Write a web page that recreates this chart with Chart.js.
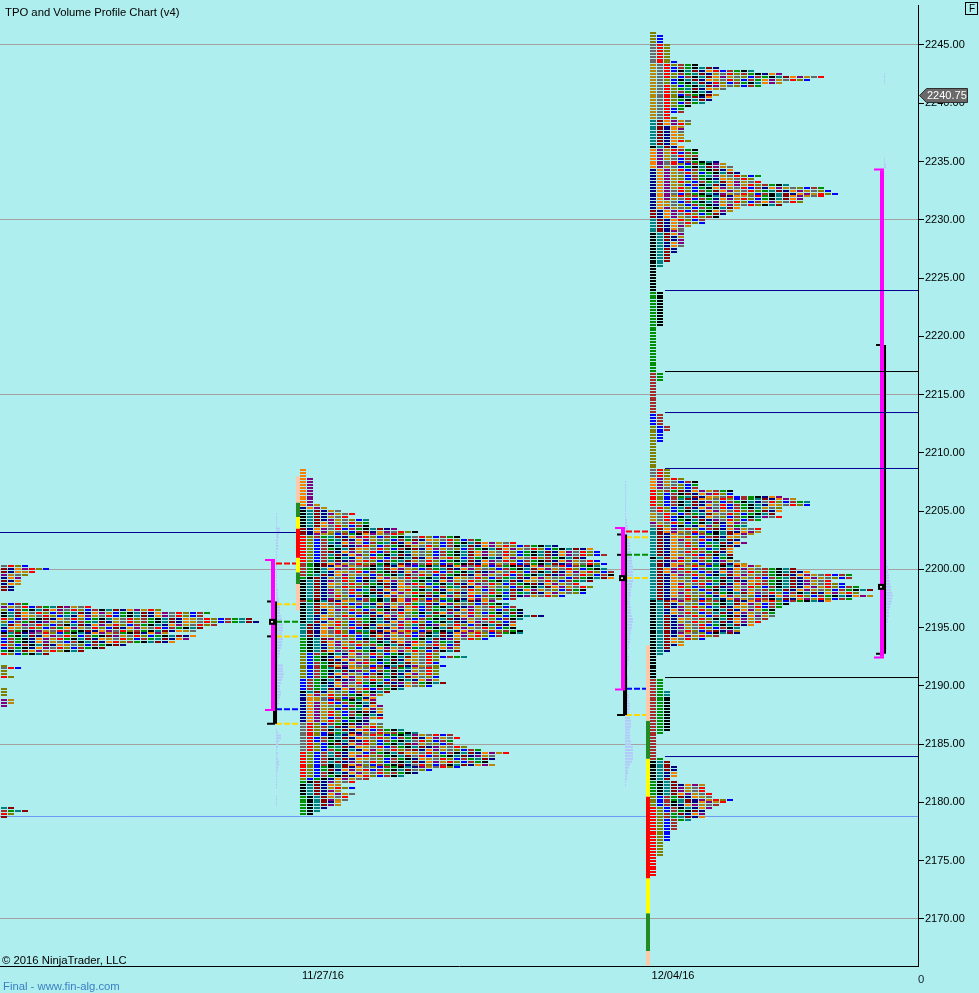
<!DOCTYPE html>
<html>
<head>
<meta charset="utf-8">
<title>TPO and Volume Profile Chart</title>
<script src="https://cdn.jsdelivr.net/npm/chart.js@4"></script>
<style>
    html, body { margin: 0; padding: 0; background: #afeeee; }
    canvas { display: block; }
</style>
</head>
<body>
<canvas id="chart" width="979" height="993"></canvas>
<script>
// Ticks and dates
const priceTicks = [2245, 2240, 2235, 2230, 2225, 2220, 2215, 2210, 2205, 2200, 2195, 2190, 2185, 2180, 2175, 2170];
const gridLevels = [2245, 2230, 2215, 2200, 2185, 2170];
const dateLabels = ['11/27/16', '12/04/16'];
const dateColumns = [46.14, 96.14];
const lastPrice = 2240.75;

// TPO profiles: blocks per 0.25 row, from the top price down
const rowsOld = [4,7,5,4,3,3,3,2,2,0,0,0,0,4,13,23,30,29,36,37,31,29,28,24,28,27,25,18,15,12,7,0,0,0,1,3,1,1,2,0,0,0,1,1,1,0,2,2,1];
const rowsOldLow = [2,4,2,1];
const rowsMid = [1,1,1,2,2,2,2,2,2,2,2,2,3,4,6,8,7,10,10,10,14,17,15,23,26,31,37,42,43,44,41,43,44,43,44,45,45,45,42,40,42,41,41,38,31,28,30,31,32,32,35,32,31,31,31,32,32,29,27,23,23,23,23,20,
    24,20,20,21,20,20,20,20,20,21,19,15,13,12,11,11,11,12,12,12,12,12,10,12,12,15,17,22,23,22,22,24,26,30,28,28,27,28,23,19,17,15,10,8,6,8,6,8,7,7,6,6,4,3,2];
const rowsNew = [1,2,2,2,3,3,3,3,3,3,4,7,10,15,19,25,23,19,16,11,9,10,9,9,8,6,5,5,3,4,6,6,5,5,5,5,5,6,4,5,7,7,7,7,
    10,11,12,12,13,16,15,16,20,25,26,27,25,22,22,19,13,12,11,10,8,8,6,5,5,5,5,5,5,5,4,4,3,3,3,2,2,
    1,1,1,1,1,1,1,1,2,2,2,2,2,2,2,2,2,2,2,2,1,1,1,1,1,1,1,1,1,1,1,1,1,1,1,1,2,2,2,1,1,1,1,1,1,1,1,1,1,1,
    2,2,2,2,3,3,2,2,2,2,1,1,1,1,1,1,1,1,1,3,3,3,5,
    7,7,7,12,12,19,21,23,23,19,19,18,19,16,14,14,16,16,15,14,13,14,13,12,12,12,12,13,14,16,21,23,29,29,26,28,30,32,30,32,29,26,20,19,18,18,18,17,16,15,13,13,13,10,8,5,5,3,3,2,
    1,1,1,1,1,1,1,1,2,2,2,2,3,3,3,3,3,3,3,3,3,3,3,3,3,3,2,1,1,1,1,1,1,1,1,2,3,3,4,4,4,4,3,4,8,8,8,9,9,12,11,10,9,8,8,8,6,4,4,4,3,3,3,3,2,2,2,2,2,1,1,1,1,1,1,1];
const topPrices = [2200.25, 2179.5, 2208.5, 2246];
const startColumns = [0, 0, 42.71, 92.71];

// Volume histograms: size per 0.25 row
const volumeMid = [1,1,1,1,1,4,4,3,3,2,2,2,2,1,1,1,1,1,1,1,1,1,1,1,1,1,2,2,2,3,3,3,4,4,4,5,6,6,7,7,7,6,6,7,6,6,5,4,4,3,2,2,7,7,7,8,7,6,5,4,4,5,5,4,3,3,2,0,0,0,0,0,0,0,
    1,2,5,5,3,2,2,1,2,1,2,3,3,2,2,1,1,1,1,1,1,0,0,1,1,1,1];
const volumeNew = [1,1,1,1,1,1,1,1,1,1,1,1,1,2,2,3,3,2,3,4,4,5,5,5,6,6,7,7,7,8,8,8,8,8,8,7,7,6,6,6,5,5,5,6,6,6,7,8,8,7,7,6,6,5,5,5,4,4,3,3,4,4,3,3,2,2,2,3,3,3,3,3,3,4,4,4,5,5,5,4,4,5,6,6,6,5,5,5,5,6,6,8,8,8,8,8,7,5,4,3,3,2,2,1,1];
const volumeLast = [1,1,2,2,2,3,3,4,4,5,5,6,7,6,6,5,4,3,3,3,2,2,1,1,1,1,1,1,1,1,1];
const volumeLastA = [1,1,1,1];
const volumeLastB = [1,1,2,2];
const volumeTops = [2204.75, 2207.5, 2200.75, 2242.5, 2235.25];
const volumeColumns = [39.43, 89.29, 126.57, 126.29, 126.29];

// Value area, range and POC per session
const sessionColumns = [39, 89, 126];
const rangeColumns = [39.29, 89.29, 126.29];
const valueHigh = [2200.75, 2203.5, 2234.25];
const valueLow = [2188, 2189.75, 2192.5];
const rangeHigh = [2197.25, 2203, 2219.25];
const rangeLow = [2186.75, 2187.5, 2192.75];
const pocPrices = [2195.5, 2199.25, 2198.5];
const shortMarkPrices = [2194.25, 2201.25];

// Dashed session levels
const levelsMid = [2200.5, 2197, 2195.5, 2194.25, 2188, 2186.75];
const levelsNew = [2203.25, 2202.75, 2201.25, 2199.25, 2189.75, 2187.5];

// Long horizontal levels
const navyLevels = [2223.93, 2213.46, 2208.66, 2183.94];
const blackLevels = [2216.98, 2190.72];
const navyOldLevel = 2203.165;
const supportLevel = 2178.794;

// Time bands beside the profiles
const bandEdgesMid = [2208, 2205.75, 2204.5, 2203.5, 2201, 2199.75, 2198.75, 2196.5];
const bandEdgesNew = [2193.5, 2187, 2183.75, 2180.5, 2173.5, 2170.5, 2167.25, 2166];

// Styles
const colors = {
    navy: '#000080', orange: '#f58000', purple: '#800080', gold: '#b8860b', dimgray: '#696969', red: '#ff0000', olive: '#808000',
    blue: '#0000ff', brown: '#a52a2a', green: '#008f00', black: '#000000', teal: '#008080', darkred: '#8b0000'
};
const letterOrder = Object.keys(colors);
const bandColorsMid = ['#ffc8a8', '#228b22', '#ffff00', '#ff0000', '#ffff00', '#228b22', '#ffc8a8'];
const bandColorsNew = ['#ffc8a8', '#228b22', '#ffff00', '#ff0000', '#ffff00', '#228b22', '#ffc8a8'];
const levelColors = ['#ff0000', '#ffd700', '#008f00', '#ffd700', '#0000ff', '#ffd700'];

// First block colour of each row, as [colour, rows]
const firstOld = [['dimgray',1],['darkred',2],['purple',1],['navy',1],['darkred',1],['navy',1],['darkred',2],['olive',4],['olive',1],['purple',1],['olive',1],['black',2],['red',1],['olive',1],['teal',1],['navy',1],['blue',1],['black',1],['brown',1],['blue',2],['red',1],['blue',1],['green',1],['red',1],['olive',3],['olive',1],['dimgray',1],['olive',2],['red',1],['olive',6],['purple',4]];
const firstOldLow = [['teal',1],['brown',1],['red',1],['darkred',1]];
const firstMid = [['orange',13],['navy',1],['black',6],['darkred',3],['red',9],['brown',5],['green',1],['black',7],['brown',1],['black',7],['teal',5],['green',5],['olive',9],['blue',4],['black',1],['navy',10],['dimgray',10],['red',9],['olive',1],['green',1],['black',4],['green',7]];
const firstNew = [['olive',4],['dimgray',7],['gold',19],['teal',9],['black',1],['orange',7],['navy',14],['darkred',3],['teal',5],['black',20],['green',28],['brown',14],['blue',4],['olive',15],['dimgray',3],['orange',4],['red',6],['dimgray',2],['gold',3],['purple',1],['dimgray',1],['teal',10],['black',1],['teal',14],['black',27],['brown',28],['black',7],['green',5],['olive',4],['red',24]];

const ROW = 0.25;

function expandRuns(runs) {
    const out = [];
    runs.forEach(run => {
        for (let i = 0; i < run[1]; i++) out.push(run[0]);
    });
    return out;
}

// Block swatch used as point style
function makeSwatch(color) {
    const c = document.createElement('canvas');
    c.width = 6;
    c.height = 2;
    const g = c.getContext('2d');
    g.fillStyle = color;
    g.fillRect(0, 0, 6, 2);
    return c;
}

// Group the TPO blocks by colour, one scatter dataset per colour
function buildBlockDatasets() {
    const groups = {};
    letterOrder.forEach(name => { groups[name] = []; });
    const profiles = [
        [rowsOld, firstOld], [rowsOldLow, firstOldLow], [rowsMid, firstMid], [rowsNew, firstNew]
    ];
    profiles.forEach((profile, p) => {
        const firsts = expandRuns(profile[1]);
        profile[0].forEach((count, i) => {
            const base = letterOrder.indexOf(firsts[i] || firsts[firsts.length - 1]);
            const band = Math.floor(i / 2);
            let skip = 0;
            for (let j = 0; j < count; j++) {
                if (j >= 2 && (band * 5 + j * 3 + p) % 7 === 0) skip++;
                // rows drift apart the further they run from the profile spine
                if (j === 4) skip += (i * 5) % 3;
                if (j === 9) skip += (i * 7) % 4;
                if (j === 16) skip += (i * 3) % 5;
                const name = letterOrder[(base + j + skip) % letterOrder.length];
                groups[name].push({ x: startColumns[p] + j + 0.57, y: topPrices[p] - i * ROW });
            }
        });
    });
    return letterOrder.map(name => ({
        data: groups[name],
        pointStyle: makeSwatch(colors[name]),
        pointRadius: 3,
        borderWidth: 0,
        order: 5
    }));
}

function lineSet(points, color, width, order, dash) {
    return {
        data: points,
        showLine: true,
        borderColor: color,
        borderWidth: width,
        borderDash: dash || [],
        pointRadius: 0,
        spanGaps: false,
        order: order
    };
}

function gap() {
    return { x: NaN, y: NaN };
}

function buildVolumeSet() {
    const points = [];
    [volumeMid, volumeNew, volumeLast, volumeLastA, volumeLastB].forEach((rows, v) => {
        rows.forEach((size, i) => {
            if (size === 0) return;
            const y = volumeTops[v] - i * ROW;
            points.push({ x: volumeColumns[v], y: y }, { x: volumeColumns[v] + size / 7, y: y }, gap());
        });
    });
    return lineSet(points, '#b2c8fa', 2, 8);
}

function buildBands(edges, bandColors, column) {
    return bandColors.map((color, i) => lineSet([{ x: column, y: edges[i] }, { x: column, y: edges[i + 1] }], color, 4, 4));
}

function buildSessionSets() {
    const sets = [];
    sessionColumns.forEach((col, s) => {
        const rc = rangeColumns[s];
        sets.push(lineSet([{ x: rc, y: rangeHigh[s] }, { x: rc, y: rangeLow[s] }], '#000000', 4, 3));
        sets.push(lineSet([
            { x: rc - 1.14, y: rangeHigh[s] }, { x: rc, y: rangeHigh[s] }, gap(),
            { x: rc - 1.14, y: rangeLow[s] }, { x: rc, y: rangeLow[s] }
        ], '#000000', 2, 3));
        sets.push(lineSet([
            { x: col, y: valueHigh[s] }, { x: col, y: valueLow[s] }
        ], '#ff00ff', 4, 2));
        sets.push(lineSet([
            { x: col - 1.14, y: valueHigh[s] + 0.06 }, { x: col + 0.29, y: valueHigh[s] + 0.06 }, gap(),
            { x: col - 1.14, y: valueLow[s] - 0.06 }, { x: col + 0.29, y: valueLow[s] - 0.06 }
        ], '#ff00ff', 2, 2));
        // POC marker, black square with a white centre
        sets.push(lineSet([{ x: col - 0.29, y: pocPrices[s] }, { x: col, y: pocPrices[s] }], '#ffffff', 1.5, 0));
        sets.push(lineSet([{ x: col - 0.57, y: pocPrices[s] }, { x: col + 0.29, y: pocPrices[s] }], '#000000', 6, 1));
    });
    shortMarkPrices.forEach((price, s) => {
        const rc = rangeColumns[s];
        sets.push(lineSet([{ x: rc - 1.14, y: price }, { x: rc - 0.57, y: price }], '#000000', 2, 3));
    });
    return sets;
}

function buildLevels(levels, from, to) {
    return levels.map((price, i) => lineSet([{ x: from, y: price }, { x: to, y: price }], levelColors[i], 2, 4, [6, 2]));
}

function buildLongLines() {
    const right = 918 / 7;
    const sets = [];
    const spread = (levels, color) => levels.forEach(price => {
        sets.push(lineSet([{ x: 95, y: price }, { x: right, y: price }], color, 1, 1));
    });
    spread(navyLevels, '#000090');
    spread(blackLevels, '#000000');
    sets.push(lineSet([{ x: 0, y: navyOldLevel }, { x: 42.7, y: navyOldLevel }], '#000090', 1, 6));
    sets.push(lineSet([{ x: 0, y: supportLevel }, { x: right, y: supportLevel }], '#6b98f5', 1, 9));
    return sets;
}

// Nearest sampling keeps the small blocks crisp
const crispBlocks = {
    id: 'crispBlocks',
    beforeDatasetsDraw(chart) {
        chart.ctx.imageSmoothingEnabled = false;
    }
};

// Captions, price tag and the F button
const captions = {
    id: 'captions',
    afterDraw(chart) {
        const ctx = chart.ctx;
        ctx.save();
        ctx.font = '11.3px "Liberation Sans"';
        ctx.textBaseline = 'alphabetic';
        ctx.textAlign = 'left';
        ctx.fillStyle = '#000000';
        ctx.fillText('TPO and Volume Profile Chart (v4)', 5, 16);
        ctx.fillText('\u00a9 2016 NinjaTrader, LLC', 2, 964);
        ctx.fillStyle = '#3a80c4';
        ctx.fillText('Final - www.fin-alg.com', 3, 990);
        ctx.fillStyle = '#112233';
        ctx.fillText('0', 918, 983);

        const y = Math.round(chart.scales.y.getPixelForValue(lastPrice));
        ctx.fillStyle = '#696969';
        ctx.strokeStyle = '#303030';
        ctx.lineWidth = 1;
        ctx.beginPath();
        ctx.moveTo(919.5, y + 0.5);
        ctx.lineTo(926.5, y - 6.5);
        ctx.lineTo(967.5, y - 6.5);
        ctx.lineTo(967.5, y + 7.5);
        ctx.lineTo(926.5, y + 7.5);
        ctx.closePath();
        ctx.fill();
        ctx.stroke();
        ctx.fillStyle = '#ffffff';
        ctx.font = '11px "Liberation Sans"';
        ctx.fillText(String(lastPrice), 927, y + 4);

        ctx.strokeStyle = '#000000';
        ctx.strokeRect(965.5, 2.5, 12, 12);
        ctx.fillStyle = '#000000';
        ctx.font = '10px "Liberation Sans"';
        ctx.fillText('F', 969, 12);
        ctx.restore();
    }
};

const datasets = [
    buildVolumeSet(),
    ...buildBlockDatasets(),
    ...buildBands(bandEdgesMid, bandColorsMid, 42.57),
    ...buildBands(bandEdgesNew, bandColorsNew, 92.57),
    ...buildSessionSets(),
    ...buildLevels(levelsMid, 39.43, 42.57),
    ...buildLevels(levelsNew, 89.43, 92.57),
    ...buildLongLines()
];

new Chart(document.getElementById('chart'), {
    type: 'scatter',
    data: { datasets: datasets },
    plugins: [crispBlocks, captions],
    options: {
        responsive: false,
        animation: false,
        devicePixelRatio: 1,
        events: [],
        layout: { autoPadding: false, padding: { top: 5, left: 0, right: 0, bottom: 0 } },
        plugins: {
            legend: { display: false },
            tooltip: { enabled: false }
        },
        scales: {
            x: {
                type: 'linear',
                min: 0,
                max: 918 / 7,
                afterBuildTicks(scale) {
                    scale.ticks = dateColumns.map(value => ({ value: value }));
                },
                afterFit(scale) {
                    scale.height = 27;
                    scale.paddingLeft = 0;
                    scale.paddingRight = 0;
                },
                grid: { display: true, drawOnChartArea: false, drawTicks: false },
                border: { color: '#000000', width: 1 },
                ticks: {
                    color: '#000000',
                    maxRotation: 0,
                    padding: 3,
                    font: { family: '"Liberation Sans"', size: 11 },
                    callback(value, index) {
                        return dateLabels[index];
                    }
                }
            },
            y: {
                type: 'linear',
                position: 'right',
                min: 2245 - 921 / 11.653,
                max: 2245 + 40 / 11.653,
                afterBuildTicks(scale) {
                    scale.ticks = priceTicks.map(value => ({ value: value }));
                },
                afterFit(scale) {
                    scale.width = 61;
                    scale.paddingTop = 0;
                    scale.paddingBottom = 0;
                },
                grid: {
                    tickLength: 6,
                    tickColor: '#000000',
                    color(ctx) {
                        return ctx.tick && gridLevels.includes(ctx.tick.value) ? '#a6a0a0' : 'rgba(0,0,0,0)';
                    }
                },
                border: { color: '#000000', width: 1 },
                ticks: {
                    color: '#000000',
                    padding: 1,
                    font: { family: '"Liberation Sans"', size: 11 },
                    callback(value) {
                        return Number(value).toFixed(2);
                    }
                }
            }
        }
    }
});
</script>
</body>
</html>
